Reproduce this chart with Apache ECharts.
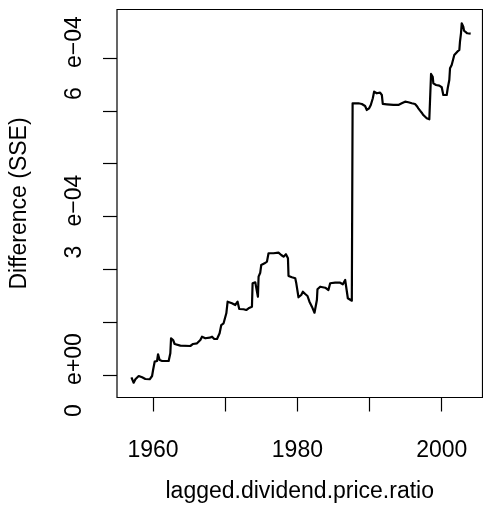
<!DOCTYPE html>
<html>
<head>
<meta charset="utf-8">
<script src="https://cdn.jsdelivr.net/npm/echarts@6/dist/echarts.min.js"></script>
<style>
  html, body { margin: 0; padding: 0; background: #ffffff; }
  #chart { width: 483px; height: 518px; }
</style>
</head>
<body>
<div id="chart"></div>
<script>
// Break point (year of the lagged dividend/price ratio series)
const years = [
  1957.00,1957.31,1957.55,1958.01,1958.48,1958.93,1959.53,1959.86,1960.00,1960.22,
  1960.55,1960.69,1960.91,1961.25,1962.16,1962.39,1962.49,1962.77,1962.99,1963.78,
  1965.16,1965.54,1966.09,1966.55,1966.78,1967.24,1967.83,1968.17,1968.48,1968.86,
  1969.22,1969.45,1969.77,1970.15,1970.33,1970.93,1971.39,1971.71,1971.94,1972.54,
  1972.91,1973.23,1973.70,1973.79,1974.16,1974.39,1974.53,1974.62,1974.85,1974.99,
  1975.45,1975.78,1976.00,1976.69,1977.38,1977.76,1978.08,1978.41,1978.69,1978.77,
  1979.24,1979.70,1979.83,1980.07,1980.15,1980.53,1980.76,1981.08,1981.40,1981.67,
  1982.01,1982.37,1982.60,1982.70,1982.78,1983.16,1983.85,1984.30,1984.54,1985.23,
  1985.92,1986.30,1986.62,1986.85,1986.99,1987.21,1987.54,1987.65,1988.46,1988.93,
  1989.38,1989.62,1989.94,1990.17,1990.45,1990.63,1991.00,1991.46,1991.70,1991.83,
  1992.39,1993.30,1993.99,1994.46,1994.92,1995.38,1995.85,1996.30,1996.54,1996.76,
  1997.00,1997.23,1997.45,1997.69,1997.92,1998.28,1998.48,1998.52,1998.75,1998.84,
  1999.21,1999.67,2000.00,2000.14,2000.22,2000.46,2000.69,2000.83,2001.05,2001.15,
  2001.38,2001.61,2001.74,2001.98,2002.16,2002.44,2002.53,2002.67,2002.77,2002.99,
  2003.09,2003.36,2003.54,2004.01
];

// Difference in SSE, expressed in units of 1e-04
const sseE4 = [
  -0.044,-0.146,-0.081,-0.019,-0.044,-0.076,-0.081,-0.019,0.095,0.252,
  0.265,0.392,0.284,0.265,0.265,0.411,0.695,0.662,0.587,0.555,
  0.549,0.587,0.600,0.662,0.725,0.695,0.706,0.725,0.681,0.681,
  0.789,0.946,0.979,1.168,1.387,1.357,1.325,1.387,1.249,1.244,
  1.230,1.263,1.293,1.736,1.755,1.785,1.482,1.861,1.936,2.082,
  2.114,2.145,2.304,2.304,2.315,2.271,2.239,2.285,2.209,1.874,
  1.849,1.830,1.747,1.736,1.471,1.514,1.577,1.533,1.495,1.387,
  1.293,1.179,1.168,1.420,1.622,1.671,1.652,1.609,1.736,1.747,
  1.747,1.717,1.798,1.811,1.452,1.420,1.406,5.143,5.143,5.130,
  5.092,5.016,5.048,5.111,5.238,5.363,5.332,5.344,5.300,5.130,
  5.124,5.111,5.111,5.143,5.173,5.162,5.143,5.130,5.092,5.048,
  5.003,4.965,4.921,4.889,4.859,4.840,4.859,5.698,5.646,5.521,
  5.489,5.476,5.446,5.427,5.300,5.268,5.300,5.427,5.584,5.805,
  5.868,5.836,6.057,6.025,6.120,6.152,6.309,6.468,6.657,6.593,
  6.517,6.517,6.468,6.460
];

// Axis ticks and labels
const xTicks = [1960, 1970, 1980, 1990, 2000];
const xLabels = [1960, 1980, 2000];
const yTicks = [0, 1e-4, 2e-4, 3e-4, 4e-4, 5e-4, 6e-4];
const yLabels = [0, 3e-4, 6e-4];
const yLabelText = ['0   e+00', '3   e\u221204', '6   e\u221204'];

const FONT = 'Liberation Sans, Arial, Helvetica, sans-serif';

const lineData = years.map((yr, i) => [yr, sseE4[i] * 1e-4]);

const chart = echarts.init(document.getElementById('chart'), null, { renderer: 'canvas' });

chart.setOption({
  animation: false,
  backgroundColor: '#ffffff',
  grid: {
    left: 116.5, top: 9.5, width: 366, height: 388,
    show: true, borderColor: '#000000', borderWidth: 1.2,
    backgroundColor: 'transparent'
  },
  xAxis: {
    type: 'value',
    min: 1955.0, max: 2005.65,
    axisLine: { show: false, onZero: false },
    splitLine: { show: false },
    axisTick: {
      show: true, inside: false, length: 14,
      customValues: xTicks,
      lineStyle: { color: '#000000', width: 1.2 }
    },
    axisLabel: {
      customValues: xLabels,
      margin: 42,
      fontSize: 23, color: '#000000', fontFamily: FONT,
      formatter: v => String(Math.round(v))
    },
    name: 'lagged.dividend.price.ratio',
    nameLocation: 'middle',
    nameGap: 83,
    nameTextStyle: { fontSize: 23, color: '#000000', fontFamily: FONT }
  },
  yAxis: {
    type: 'value',
    min: -0.426e-4, max: 6.918e-4,
    axisLine: { show: false, onZero: false },
    splitLine: { show: false },
    axisTick: {
      show: true, inside: false, length: 14,
      customValues: yTicks,
      lineStyle: { color: '#000000', width: 1.2 }
    },
    axisLabel: {
      customValues: yLabels,
      rotate: 90,
      margin: 31,
      fontSize: 23, color: '#000000', fontFamily: FONT,
      formatter: v => {
        const k = yLabels.findIndex(t => Math.abs(t - v) < 1e-9);
        return k >= 0 ? yLabelText[k] : '';
      }
    },
    name: 'Difference (SSE)',
    nameLocation: 'middle',
    nameGap: 86,
    nameTextStyle: { fontSize: 23, color: '#000000', fontFamily: FONT }
  },
  series: [{
    type: 'line',
    data: lineData,
    showSymbol: false,
    symbol: 'none',
    smooth: false,
    lineStyle: { color: '#000000', width: 2.2, join: 'round' },
    clip: true
  }]
});
</script>
</body>
</html>
